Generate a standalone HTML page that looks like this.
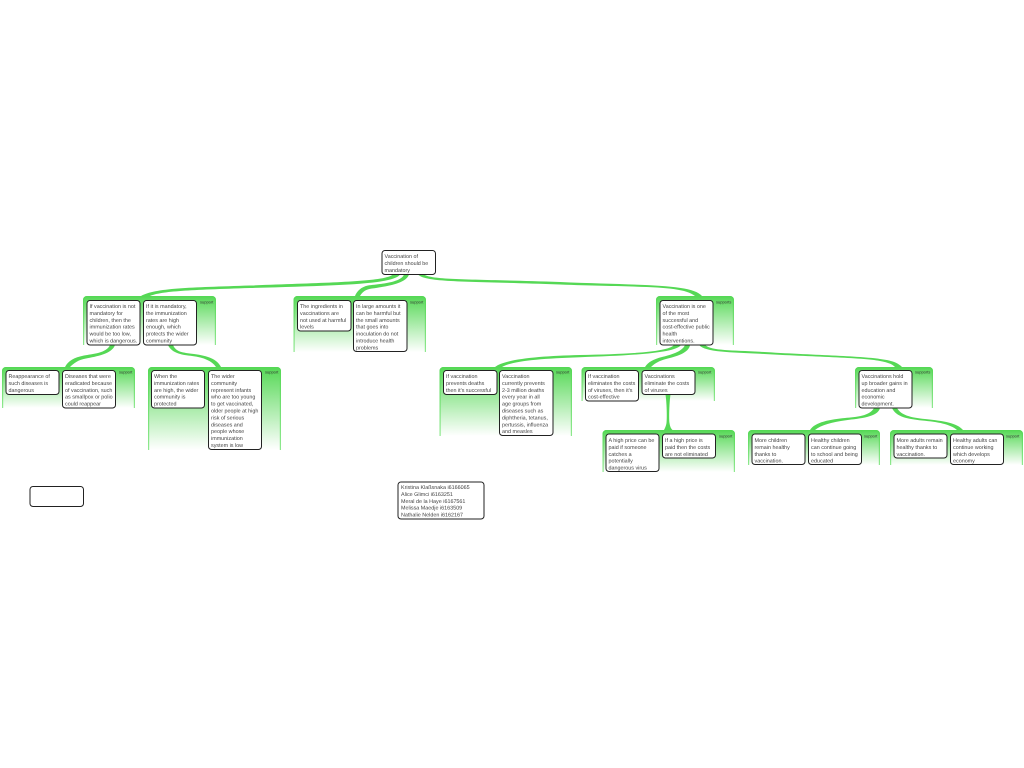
<!DOCTYPE html>
<html>
<head>
<meta charset="utf-8">
<style>
html,body{margin:0;padding:0;background:#fff;}
svg{display:block;}
text{font-family:"Liberation Sans",sans-serif;font-size:5.4px;fill:#444;text-rendering:geometricPrecision;}
text.s{font-size:4px;fill:#333;}
.b{fill:#fff;stroke:#222;stroke-width:1;}
.c{fill:#55d855;}
</style>
</head>
<body>
<svg width="1024" height="768" viewBox="0 0 1024 768" xmlns="http://www.w3.org/2000/svg">
<defs>
<linearGradient id="g" x1="0" y1="0" x2="0" y2="1">
<stop offset="0" stop-color="#55d855"/>
<stop offset="1" stop-color="#ffffff"/>
</linearGradient>
<linearGradient id="e" x1="0" y1="0" x2="0" y2="1">
<stop offset="0" stop-color="#55d855"/>
<stop offset="1" stop-color="#8fe88f"/>
</linearGradient>
</defs>

<!-- group panels -->
<g fill="url(#g)">
<path d="M83,345V300a4,4 0 0 1 4,-4H212a4,4 0 0 1 4,4V345Z"/>
<path d="M2,408V371a4,4 0 0 1 4,-4H131a4,4 0 0 1 4,4V408Z"/>
<path d="M148,450V371a4,4 0 0 1 4,-4H277a4,4 0 0 1 4,4V450Z"/>
<path d="M293.500,352V300a4,4 0 0 1 4,-4H422a4,4 0 0 1 4,4V352Z"/>
<path d="M439.500,436V371a4,4 0 0 1 4,-4H568a4,4 0 0 1 4,4V436Z"/>
<path d="M656,345V300a4,4 0 0 1 4,-4H730a4,4 0 0 1 4,4V345Z"/>
<path d="M581.500,401V371a4,4 0 0 1 4,-4H711a4,4 0 0 1 4,4V401Z"/>
<path d="M602.500,472V434a4,4 0 0 1 4,-4H731a4,4 0 0 1 4,4V472Z"/>
<path d="M855,408V371a4,4 0 0 1 4,-4H929a4,4 0 0 1 4,4V408Z"/>
<path d="M748,465V434a4,4 0 0 1 4,-4H876a4,4 0 0 1 4,4V465Z"/>
<path d="M890,465V434a4,4 0 0 1 4,-4H1019a4,4 0 0 1 4,4V465Z"/>
</g>
<g fill="none" stroke="url(#e)" stroke-width="1.200">
<path d="M83.600,345V300a3.400,3.400 0 0 1 3.400,-3.400H212a3.400,3.400 0 0 1 3.400,3.400V345"/>
<path d="M2.600,408V371a3.400,3.400 0 0 1 3.400,-3.400H131a3.400,3.400 0 0 1 3.400,3.400V408"/>
<path d="M148.600,450V371a3.400,3.400 0 0 1 3.400,-3.400H277a3.400,3.400 0 0 1 3.400,3.400V450"/>
<path d="M294.100,352V300a3.400,3.400 0 0 1 3.400,-3.400H422a3.400,3.400 0 0 1 3.400,3.400V352"/>
<path d="M440.100,436V371a3.400,3.400 0 0 1 3.400,-3.400H568a3.400,3.400 0 0 1 3.400,3.400V436"/>
<path d="M656.600,345V300a3.400,3.400 0 0 1 3.400,-3.400H730a3.400,3.400 0 0 1 3.400,3.400V345"/>
<path d="M582.100,401V371a3.400,3.400 0 0 1 3.400,-3.400H711a3.400,3.400 0 0 1 3.400,3.400V401"/>
<path d="M603.100,472V434a3.400,3.400 0 0 1 3.400,-3.400H731a3.400,3.400 0 0 1 3.400,3.400V472"/>
<path d="M855.600,408V371a3.400,3.400 0 0 1 3.400,-3.400H929a3.400,3.400 0 0 1 3.400,3.400V408"/>
<path d="M748.600,465V434a3.400,3.400 0 0 1 3.400,-3.400H876a3.400,3.400 0 0 1 3.400,3.400V465"/>
<path d="M890.600,465V434a3.400,3.400 0 0 1 3.400,-3.400H1019a3.400,3.400 0 0 1 3.400,3.400V465"/>
</g>

<!-- connectors -->
<g class="c">
<path d="M393,274.500C384,282 330,282.500 250,285.500C190,287.500 155,288 141,296L150,296C162,291 190,290 250,288C335,285.500 394,284.500 400,274.500Z"/>
<path d="M404,274.500C401,283 378,284 368,285.500C361,287 357,291 355,296L360,296C363,291 366,289.500 372,288.500C385,286.500 406,284 409,274.500Z"/>
<path d="M418,274.500C426,283 470,281 560,284.500C640,287.500 682,285 695,296L702,296C692,283.500 640,285.500 560,282C480,279 432,280.500 424,274.500Z"/>
<path d="M110,345C107,353 92,354 84,355.500C74,357.500 68,361 65,367L70,367C74,363 78,360 86,358.500C96,356.500 112,354 115,345Z"/>
<path d="M168,345C172,354 184,355 192,356C204,357.500 212,361 216,367L221,367C217,359 208,356 194,354C182,352.500 176,352 173,345Z"/>
<path d="M674,345C668,352 630,354 580,355C540,356 505,359 495,367L502,367C512,361 540,358.500 580,357.200C632,355.500 676,353 681,345Z"/>
<path d="M685,345C682,352 670,355 662,357C654,359 648,362 645,367L651,367C655,363 660,360.500 666,359C676,356.500 689,353 690,345Z"/>
<path d="M699,345C706,352.500 730,352 760,353.800C810,356.800 862,357.500 880,361C888,362.500 892,364 895,367L902,367C897,361.500 888,360 880,359C860,356 810,355 760,351.800C732,350 712,351 705,345Z"/>
<path d="M665.500,394.500C667,405 667,420 666.500,423C666,426 665,428 664,430L672.500,430C670.500,428 670,426 669.500,423C669,420 669,405 670.500,394.500Z"/>
<path d="M874,408C870,416 856,417 845,418C830,419.500 815,422 810,430L815,430C821,425 832,422 846,420.200C860,418.500 878,417 880,408Z"/>
<path d="M892,408C896,417 908,419 922,420.500C938,422 950,424 957,430L963,430C957,423 944,421 925,419C910,417.500 901,415 897,408Z"/>
</g>

<!-- boxes -->
<g>
<rect class="b" x="382" y="250.500" width="53.500" height="24" rx="3"/>
<rect class="b" x="87" y="300.500" width="53" height="44.500" rx="3"/>
<rect class="b" x="143.500" y="300.500" width="53" height="44.500" rx="3"/>
<rect class="b" x="6" y="370.500" width="53" height="24" rx="3"/>
<rect class="b" x="62.500" y="370.500" width="53" height="37.500" rx="3"/>
<rect class="b" x="151.500" y="370.500" width="53" height="37.500" rx="3"/>
<rect class="b" x="208.500" y="370.500" width="53" height="79" rx="3"/>
<rect class="b" x="297.500" y="300.500" width="53.500" height="30.500" rx="3"/>
<rect class="b" x="353.500" y="300.500" width="53.500" height="51" rx="3"/>
<rect class="b" x="443.500" y="370.500" width="53.500" height="24" rx="3"/>
<rect class="b" x="499.500" y="370.500" width="53.500" height="65" rx="3"/>
<rect class="b" x="660" y="300.500" width="53" height="44.500" rx="3"/>
<rect class="b" x="585.500" y="370.500" width="53" height="30.500" rx="3"/>
<rect class="b" x="642" y="370.500" width="53" height="24" rx="3"/>
<rect class="b" x="606" y="434" width="53" height="37.500" rx="3"/>
<rect class="b" x="662.500" y="434" width="53" height="24" rx="3"/>
<rect class="b" x="859" y="370.500" width="53" height="37.500" rx="3"/>
<rect class="b" x="752" y="434" width="53" height="30.500" rx="3"/>
<rect class="b" x="808.500" y="434" width="53" height="30.500" rx="3"/>
<rect class="b" x="894" y="434" width="53" height="24" rx="3"/>
<rect class="b" x="950.500" y="434" width="53" height="30.500" rx="3"/>
<rect class="b" x="30" y="486.500" width="53.500" height="20" rx="3"/>
<rect class="b" x="398" y="482" width="86" height="37" rx="3"/>
</g>

<!-- support labels -->
<text class="s" x="200" y="303.500">support</text>
<text class="s" x="119" y="373.500">support</text>
<text class="s" x="265" y="373.500">support</text>
<text class="s" x="410" y="303.500">support</text>
<text class="s" x="556" y="373.500">support</text>
<text class="s" x="716" y="303.500">supports</text>
<text class="s" x="698" y="373.500">support</text>
<text class="s" x="719" y="437.500">support</text>
<text class="s" x="915" y="373.500">supports</text>
<text class="s" x="864" y="437.500">support</text>
<text class="s" x="1006" y="437.500">support</text>

<!-- labels -->
<text x="384.500" y="258"><tspan x="384.500">Vaccination of</tspan><tspan x="384.500" dy="6.900">children should be</tspan><tspan x="384.500" dy="6.900">mandatory</tspan></text>

<text x="89.500" y="308"><tspan x="89.500">If vaccination is not</tspan><tspan x="89.500" dy="6.900">mandatory for</tspan><tspan x="89.500" dy="6.900">children, then the</tspan><tspan x="89.500" dy="6.900">immunization rates</tspan><tspan x="89.500" dy="6.900">would be too low,</tspan><tspan x="89.500" dy="6.900">which is dangerous.</tspan></text>

<text x="146" y="308"><tspan x="146">If it is mandatory,</tspan><tspan x="146" dy="6.900">the immunization</tspan><tspan x="146" dy="6.900">rates are high</tspan><tspan x="146" dy="6.900">enough, which</tspan><tspan x="146" dy="6.900">protects the wider</tspan><tspan x="146" dy="6.900">community</tspan></text>

<text x="8.500" y="378"><tspan x="8.500">Reappearance of</tspan><tspan x="8.500" dy="6.900">such diseases is</tspan><tspan x="8.500" dy="6.900">dangerous</tspan></text>

<text x="65" y="378"><tspan x="65">Diseases that were</tspan><tspan x="65" dy="6.900">eradicated because</tspan><tspan x="65" dy="6.900">of vaccination, such</tspan><tspan x="65" dy="6.900">as smallpox or polio</tspan><tspan x="65" dy="6.900">could reappear</tspan></text>

<text x="154" y="378"><tspan x="154">When the</tspan><tspan x="154" dy="6.900">immunization rates</tspan><tspan x="154" dy="6.900">are high, the wider</tspan><tspan x="154" dy="6.900">community is</tspan><tspan x="154" dy="6.900">protected</tspan></text>

<text x="211" y="378"><tspan x="211">The wider</tspan><tspan x="211" dy="6.900">community</tspan><tspan x="211" dy="6.900">represent infants</tspan><tspan x="211" dy="6.900">who are too young</tspan><tspan x="211" dy="6.900">to get vaccinated,</tspan><tspan x="211" dy="6.900">older people at high</tspan><tspan x="211" dy="6.900">risk of serious</tspan><tspan x="211" dy="6.900">diseases and</tspan><tspan x="211" dy="6.900">people whose</tspan><tspan x="211" dy="6.900">immunization</tspan><tspan x="211" dy="6.900">system is low</tspan></text>

<text x="300" y="308"><tspan x="300">The ingredients in</tspan><tspan x="300" dy="6.900">vaccinations are</tspan><tspan x="300" dy="6.900">not used at harmful</tspan><tspan x="300" dy="6.900">levels</tspan></text>

<text x="356" y="308"><tspan x="356">In large amounts it</tspan><tspan x="356" dy="6.900">can be harmful but</tspan><tspan x="356" dy="6.900">the small amounts</tspan><tspan x="356" dy="6.900">that goes into</tspan><tspan x="356" dy="6.900">inoculation do not</tspan><tspan x="356" dy="6.900">introduce health</tspan><tspan x="356" dy="6.900">problems</tspan></text>

<text x="446" y="378"><tspan x="446">If vaccination</tspan><tspan x="446" dy="6.900">prevents deaths</tspan><tspan x="446" dy="6.900">then it's successful</tspan></text>

<text x="502" y="378"><tspan x="502">Vaccination</tspan><tspan x="502" dy="6.900">currently prevents</tspan><tspan x="502" dy="6.900">2-3 million deaths</tspan><tspan x="502" dy="6.900">every year in all</tspan><tspan x="502" dy="6.900">age groups from</tspan><tspan x="502" dy="6.900">diseases such as</tspan><tspan x="502" dy="6.900">diphtheria, tetanus,</tspan><tspan x="502" dy="6.900">pertussis, influenza</tspan><tspan x="502" dy="6.900">and measles</tspan></text>

<text x="662.500" y="308"><tspan x="662.500">Vaccination is one</tspan><tspan x="662.500" dy="6.900">of the most</tspan><tspan x="662.500" dy="6.900">successful and</tspan><tspan x="662.500" dy="6.900">cost-effective public</tspan><tspan x="662.500" dy="6.900">health</tspan><tspan x="662.500" dy="6.900">interventions.</tspan></text>

<text x="588" y="378"><tspan x="588">If vaccination</tspan><tspan x="588" dy="6.900">eliminates the costs</tspan><tspan x="588" dy="6.900">of viruses, then it's</tspan><tspan x="588" dy="6.900">cost-effective</tspan></text>

<text x="644.500" y="378"><tspan x="644.500">Vaccinations</tspan><tspan x="644.500" dy="6.900">eliminate the costs</tspan><tspan x="644.500" dy="6.900">of viruses</tspan></text>

<text x="608.500" y="442"><tspan x="608.500">A high price can be</tspan><tspan x="608.500" dy="6.900">paid if someone</tspan><tspan x="608.500" dy="6.900">catches a</tspan><tspan x="608.500" dy="6.900">potentially</tspan><tspan x="608.500" dy="6.900">dangerous virus</tspan></text>

<text x="665" y="442"><tspan x="665">If a high price is</tspan><tspan x="665" dy="6.900">paid then the costs</tspan><tspan x="665" dy="6.900">are not eliminated</tspan></text>

<text x="861.500" y="378"><tspan x="861.500">Vaccinations hold</tspan><tspan x="861.500" dy="6.900">up broader gains in</tspan><tspan x="861.500" dy="6.900">education and</tspan><tspan x="861.500" dy="6.900">economic</tspan><tspan x="861.500" dy="6.900">development.</tspan></text>

<text x="754.500" y="442"><tspan x="754.500">More children</tspan><tspan x="754.500" dy="6.900">remain healthy</tspan><tspan x="754.500" dy="6.900">thanks to</tspan><tspan x="754.500" dy="6.900">vaccination.</tspan></text>

<text x="811" y="442"><tspan x="811">Healthy children</tspan><tspan x="811" dy="6.900">can continue going</tspan><tspan x="811" dy="6.900">to school and being</tspan><tspan x="811" dy="6.900">educated</tspan></text>

<text x="896.500" y="442"><tspan x="896.500">More adults remain</tspan><tspan x="896.500" dy="6.900">healthy thanks to</tspan><tspan x="896.500" dy="6.900">vaccination.</tspan></text>

<text x="953" y="442"><tspan x="953">Healthy adults can</tspan><tspan x="953" dy="6.900">continue working</tspan><tspan x="953" dy="6.900">which develops</tspan><tspan x="953" dy="6.900">economy</tspan></text>

<text x="401" y="489"><tspan x="401">Kristina Klaßsnaka i6166065</tspan><tspan x="401" dy="6.900">Alice Glimci i6163251</tspan><tspan x="401" dy="6.900">Meral de la Haye i6167561</tspan><tspan x="401" dy="6.900">Melissa Maedje i6163509</tspan><tspan x="401" dy="6.900">Nathalie Nelden i6162167</tspan></text>
</svg>
</body>
</html>
